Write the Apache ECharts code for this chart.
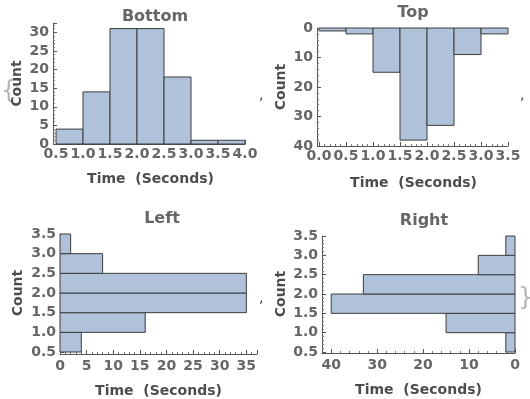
<!DOCTYPE html>
<html>
<head>
<meta charset="utf-8">
<script src="https://cdn.jsdelivr.net/npm/echarts@6/dist/echarts.min.js"></script>
<style>
  html, body { margin: 0; padding: 0; background: #fff; }
  #chart { width: 530px; height: 399px; }
</style>
</head>
<body>
<div id="chart"></div>
<script>
// bin edges and counts for each histogram
var bottomEdges = [0.5, 1.0, 1.5, 2.0, 2.5, 3.0, 3.5, 4.0];
var bottomCounts = [4, 14, 31, 31, 18, 1, 1];

var topEdges = [0.0, 0.5, 1.0, 1.5, 2.0, 2.5, 3.0, 3.5];
var topCounts = [1, 2, 15, 38, 33, 9, 2];

var leftEdges = [0.5, 1.0, 1.5, 2.0, 2.5, 3.0, 3.5];
var leftCounts = [4, 16, 35, 35, 8, 2];

var rightEdges = [0.5, 1.0, 1.5, 2.0, 2.5, 3.0, 3.5];
var rightCounts = [2, 15, 40, 33, 8, 2];

var titles = ['Bottom', 'Top', 'Left', 'Right'];
var xName = 'Time  (Seconds)';
var yName = 'Count';

var FONT = 'DejaVu Sans';
var barFill = '#b0c1da';
var barEdge = '#3c3c3c';
var labelColor = '#666666';
var nameColor = '#4d4d4d';

function bins(edges, counts) {
  var out = [];
  for (var i = 0; i < counts.length; i++) {
    out.push([edges[i], edges[i + 1], counts[i]]);
  }
  return out;
}

function fixed1(v) { return v.toFixed(1); }

function rectStyle() {
  return { fill: barFill, stroke: barEdge, lineWidth: 1 };
}

// vertical bars: value(0..1) along x, value(2) is height
function renderVertical(params, api) {
  var p0 = api.coord([api.value(0), 0]);
  var p1 = api.coord([api.value(1), api.value(2)]);
  return {
    type: 'rect',
    shape: {
      x: Math.min(p0[0], p1[0]), y: Math.min(p0[1], p1[1]),
      width: Math.abs(p1[0] - p0[0]), height: Math.abs(p1[1] - p0[1])
    },
    style: rectStyle()
  };
}

// horizontal bars: value(0..1) along y, value(2) is length
function renderHorizontal(params, api) {
  var p0 = api.coord([0, api.value(0)]);
  var p1 = api.coord([api.value(2), api.value(1)]);
  return {
    type: 'rect',
    shape: {
      x: Math.min(p0[0], p1[0]), y: Math.min(p0[1], p1[1]),
      width: Math.abs(p1[0] - p0[0]), height: Math.abs(p1[1] - p0[1])
    },
    style: rectStyle()
  };
}

function axisBase(extra) {
  var a = {
    type: 'value',
    nameLocation: 'middle',
    nameTextStyle: { fontFamily: FONT, fontWeight: 'bold', fontSize: 14, color: nameColor },
    axisLine: { show: true, onZero: false, lineStyle: { color: '#555', width: 1 } },
    axisTick: { show: true, inside: true, length: 4, lineStyle: { color: '#555' } },
    minorTick: { show: true, splitNumber: 5, length: 2, lineStyle: { color: '#777' } },
    splitLine: { show: false },
    axisLabel: { fontFamily: FONT, fontWeight: 'bold', fontSize: 14, color: labelColor, margin: 4 }
  };
  for (var k in extra) {
    if (k === 'axisLabel' || k === 'axisLine') {
      for (var j in extra[k]) a[k][j] = extra[k][j];
    } else {
      a[k] = extra[k];
    }
  }
  return a;
}

var titleStyle = { fontFamily: FONT, fontWeight: 'bold', fontSize: 16, color: labelColor };

var option = {
  animation: false,
  title: [
    { text: titles[0], left: 150, top: 4, textAlign: 'center', textStyle: titleStyle },
    { text: titles[1], left: 408, top: 0, textAlign: 'center', textStyle: titleStyle },
    { text: titles[2], left: 157, top: 206, textAlign: 'center', textStyle: titleStyle },
    { text: titles[3], left: 419, top: 208, textAlign: 'center', textStyle: titleStyle }
  ],
  grid: [
    { left: 56, right: 285, top: 23, bottom: 255 },
    { left: 319, right: 22, top: 28, bottom: 253 },
    { left: 60, right: 273, top: 234, bottom: 47 },
    { left: 322, right: 15, top: 236, bottom: 47 }
  ],
  xAxis: [
    axisBase({ gridIndex: 0, min: 0.5, max: 4.0, interval: 0.5, name: xName, nameGap: 28,
      axisLabel: { formatter: fixed1, margin: 3 } }),
    axisBase({ gridIndex: 1, min: 0, max: 3.5, interval: 0.5, name: xName, nameGap: 30,
      axisLabel: { formatter: fixed1, margin: 3 } }),
    axisBase({ gridIndex: 2, min: 0, max: 37, interval: 5, name: xName, nameGap: 30, offset: 2,
      axisLabel: { showMaxLabel: false, margin: 5 } }),
    axisBase({ gridIndex: 3, min: 0, max: 42, interval: 10, inverse: true, name: xName, nameGap: 30, offset: 1,
      axisLabel: { showMaxLabel: false, margin: 5 } })
  ],
  yAxis: [
    axisBase({ gridIndex: 0, min: 0, max: 32.5, interval: 5, name: yName, nameGap: 29, offset: 3,
      axisLabel: { showMaxLabel: false } }),
    axisBase({ gridIndex: 1, min: 0, max: 40, interval: 10, inverse: true, name: yName, nameGap: 29, offset: 2 }),
    axisBase({ gridIndex: 2, min: 0.5, max: 3.5, interval: 0.5, name: yName, nameGap: 35,
      axisLabel: { formatter: fixed1 } }),
    axisBase({ gridIndex: 3, min: 0.5, max: 3.5, interval: 0.5, name: yName, nameGap: 34,
      axisLabel: { formatter: fixed1 } })
  ],
  series: [
    { type: 'custom', xAxisIndex: 0, yAxisIndex: 0, renderItem: renderVertical,
      data: bins(bottomEdges, bottomCounts), encode: { x: [0, 1], y: 2 } },
    { type: 'custom', xAxisIndex: 1, yAxisIndex: 1, renderItem: renderVertical,
      data: bins(topEdges, topCounts), encode: { x: [0, 1], y: 2 } },
    { type: 'custom', xAxisIndex: 2, yAxisIndex: 2, renderItem: renderHorizontal,
      data: bins(leftEdges, leftCounts), encode: { x: 2, y: [0, 1] } },
    { type: 'custom', xAxisIndex: 3, yAxisIndex: 3, renderItem: renderHorizontal,
      data: bins(rightEdges, rightCounts), encode: { x: 2, y: [0, 1] } }
  ],
  // list punctuation around the four panels
  graphic: [
    { type: 'text', left: 1, top: 80, style: { text: '{', fontSize: 24, fontFamily: FONT, fill: '#b5b5b5' } },
    { type: 'text', left: 259, top: 88, style: { text: ',', fontSize: 14, fontFamily: FONT, fill: '#444' } },
    { type: 'text', left: 520, top: 88, style: { text: ',', fontSize: 14, fontFamily: FONT, fill: '#444' } },
    { type: 'text', left: 259, top: 291, style: { text: ',', fontSize: 14, fontFamily: FONT, fill: '#444' } },
    { type: 'text', left: 518, top: 287, style: { text: '}', fontSize: 24, fontFamily: FONT, fill: '#b5b5b5' } }
  ]
};

echarts.init(document.getElementById('chart')).setOption(option);
</script>
</body>
</html>
